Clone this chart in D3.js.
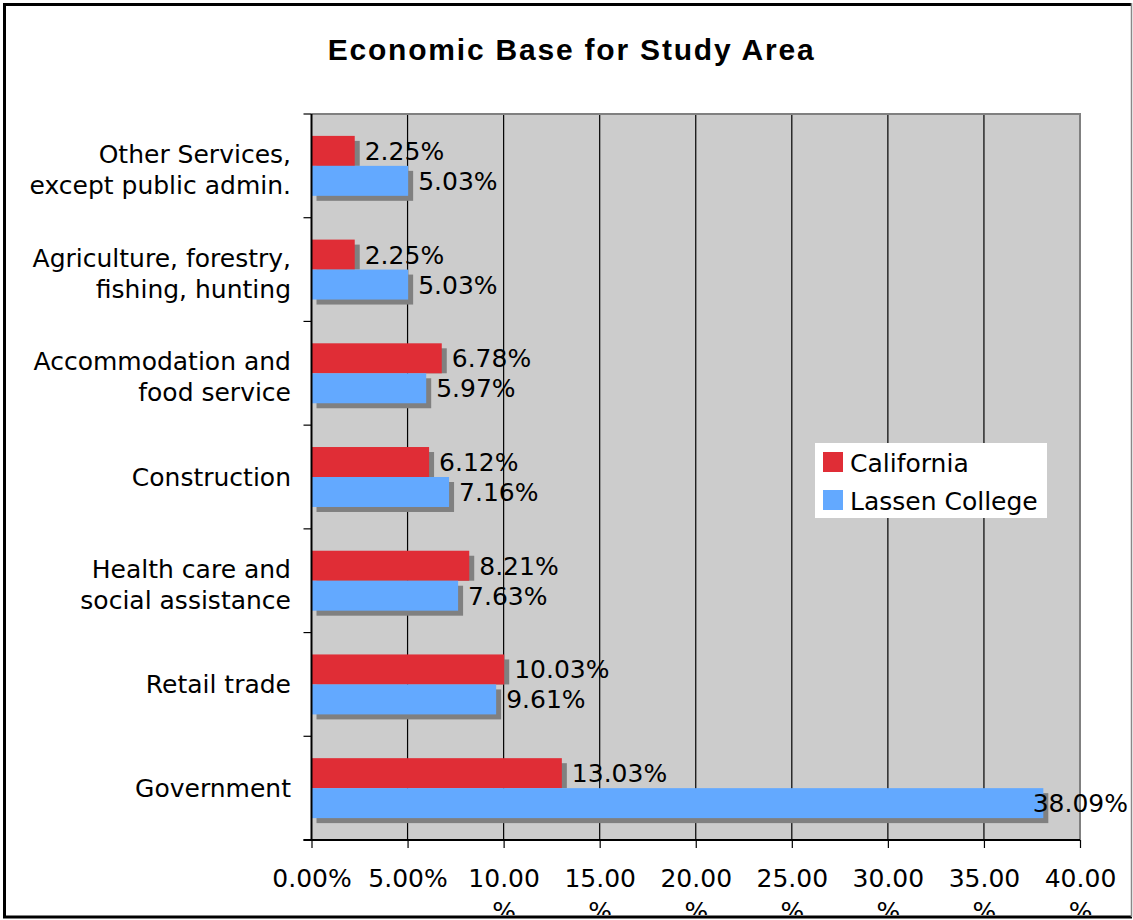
<!DOCTYPE html>
<html>
<head>
<meta charset="utf-8">
<script src="https://cdn.jsdelivr.net/npm/d3@7/dist/d3.min.js"></script>
<style>
  html, body { margin: 0; padding: 0; background: #fff; }
  svg { display: block; }
</style>
</head>
<body>
<svg id="chart" width="1133" height="920"></svg>
<script>
// ---- Data ----
const categories = [
  "Other Services,\nexcept public admin.",
  "Agriculture, forestry,\nfishing, hunting",
  "Accommodation and\nfood service",
  "Construction",
  "Health care and\nsocial assistance",
  "Retail trade",
  "Government"
];
const seriesNames = ["California", "Lassen College"];
const california = [2.25, 2.25, 6.78, 6.12, 8.21, 10.03, 13.03];
const lassen = [5.03, 5.03, 5.97, 7.16, 7.63, 9.61, 38.09];
const tickValues = [0, 5, 10, 15, 20, 25, 30, 35, 40];
const tickLabels = ["0.00%", "5.00%", "10.00%", "15.00%", "20.00%", "25.00%", "30.00%", "35.00%", "40.00%"];
const titleText = "Economic Base for Study Area";

const colors = { "California": "#E02D36", "Lassen College": "#63A9FF" };
const shadowColor = "#808080";
const font = "'DejaVu Sans', Verdana, sans-serif";

// ---- Layout ----
const svg = d3.select("#chart");
const W = 1133, H = 920;
const plot = { left: 311.5, right: 1080, top: 114, bottom: 840 };

const x = d3.scaleLinear().domain([0, 40]).range([plot.left, plot.right]);
const y = d3.scaleBand().domain(categories).range([plot.top, plot.bottom]).paddingInner(0).paddingOuter(0);
const ySub = d3.scaleBand().domain(seriesNames).range([0, y.bandwidth()]).paddingInner(0).paddingOuter(0.73);

svg.append("defs").append("clipPath").attr("id", "frameClip")
  .append("rect").attr("x", 5).attr("y", 5).attr("width", 1125).attr("height", 910);

// plot background
svg.append("rect")
  .attr("x", plot.left).attr("y", plot.top)
  .attr("width", plot.right - plot.left).attr("height", plot.bottom - plot.top)
  .attr("fill", "#CCCCCC");

// gridlines
svg.append("g").selectAll("line")
  .data(tickValues.filter(v => v > 0 && v < 40))
  .join("line")
  .attr("x1", d => x(d)).attr("x2", d => x(d))
  .attr("y1", plot.top).attr("y2", plot.bottom)
  .attr("stroke", "#000").attr("stroke-width", 1.2);

// plot border top/right
svg.append("path")
  .attr("d", `M${plot.left},${plot.top}H${plot.right}V${plot.bottom}`)
  .attr("fill", "none").attr("stroke", "#808080").attr("stroke-width", 2);

const rows = categories.map((c, i) => ({ cat: c, vals: [
  { s: "California", v: california[i] },
  { s: "Lassen College", v: lassen[i] }
]}));

const off = 5;
const barG = svg.append("g");
// shadows
rows.forEach(r => {
  r.vals.forEach((d, j) => {
    const by = y(r.cat) + ySub(d.s);
    const bh = ySub.bandwidth();
    barG.append("rect")
      .attr("x", x(0) + off).attr("y", by + off)
      .attr("width", x(d.v) - x(0))
      .attr("height", j === 0 ? bh - off : bh)
      .attr("fill", shadowColor);
  });
});
// bars
rows.forEach(r => {
  r.vals.forEach(d => {
    barG.append("rect")
      .attr("x", x(0)).attr("y", y(r.cat) + ySub(d.s))
      .attr("width", x(d.v) - x(0))
      .attr("height", ySub.bandwidth())
      .attr("fill", colors[d.s]);
  });
});

// value labels
const labG = svg.append("g");
rows.forEach(r => {
  r.vals.forEach(d => {
    const cy = y(r.cat) + ySub(d.s) + ySub.bandwidth() / 2;
    const t = labG.append("text")
      .attr("x", x(d.v) + 10).attr("y", cy + 9)
      .attr("font-family", font).attr("font-size", 25)
      .attr("fill", "#000")
      .text(d.v.toFixed(2) + "%");
    const len = t.node().getComputedTextLength();
    if (x(d.v) + 10 + len > 1128) {
      t.attr("x", 1128).attr("text-anchor", "end");
    }
  });
});

// left axis line and ticks (at band boundaries)
const boundaries = categories.map(c => y(c)).concat([plot.bottom]);
svg.append("line")
  .attr("x1", plot.left).attr("x2", plot.left)
  .attr("y1", plot.top).attr("y2", plot.bottom)
  .attr("stroke", "#000").attr("stroke-width", 2);
svg.append("g").selectAll("line").data(boundaries).join("line")
  .attr("x1", plot.left - 8).attr("x2", plot.left)
  .attr("y1", d => d).attr("y2", d => d)
  .attr("stroke", "#000").attr("stroke-width", 1.2);

// category labels
svg.append("g").selectAll("text").data(categories).join("text")
  .attr("font-family", font).attr("font-size", 25).attr("fill", "#000")
  .attr("text-anchor", "end")
  .each(function(c) {
    const lines = c.split("\n");
    const cy = y(c) + y.bandwidth() / 2;
    const t = d3.select(this);
    if (lines.length === 1) {
      t.append("tspan").attr("x", 291).attr("y", cy + 9).text(lines[0]);
    } else {
      t.append("tspan").attr("x", 291).attr("y", cy - 3).text(lines[0]);
      t.append("tspan").attr("x", 291).attr("y", cy + 28).text(lines[1]);
    }
  });

// bottom axis
const xAxis = d3.axisBottom(x).tickValues(tickValues).tickSize(8).tickFormat((d, i) => tickLabels[i]);
const axG = svg.append("g")
  .attr("transform", `translate(0,${plot.bottom})`)
  .attr("clip-path", "url(#frameClip)")
  .call(xAxis);
axG.select(".domain").attr("stroke", "#000").attr("stroke-width", 2)
  .attr("d", `M${plot.left - 8},0H${plot.right}`);
axG.selectAll(".tick line").attr("stroke", "#000").attr("stroke-width", 1.2);
axG.selectAll(".tick text")
  .attr("font-family", font).attr("font-size", 25).attr("fill", "#000")
  .attr("dy", null).attr("y", 0)
  .each(function(d, i) {
    const lab = tickLabels[i];
    const t = d3.select(this);
    t.text(null);
    if (lab.length > 5) {
      t.append("tspan").attr("x", 0).attr("y", 46.7).text(lab.slice(0, -1));
      t.append("tspan").attr("x", 0).attr("y", 79.5).text("%");
    } else {
      t.append("tspan").attr("x", 0).attr("y", 46.7).text(lab);
    }
  });
axG.attr("clip-path", null);
// clip only the labels
axG.selectAll(".tick text").attr("clip-path", null);
svg.append("g").attr("clip-path", "url(#frameClip)").node().appendChild(axG.node());

// legend
const lg = svg.append("g");
lg.append("rect").attr("x", 815).attr("y", 443).attr("width", 232).attr("height", 75).attr("fill", "#fff");
seriesNames.forEach((s, i) => {
  const yy = 452 + i * 38;
  lg.append("rect").attr("x", 823).attr("y", yy).attr("width", 20).attr("height", 20).attr("fill", colors[s]);
  lg.append("text").attr("x", 850).attr("y", yy + 20)
    .attr("font-family", font).attr("font-size", 25).attr("fill", "#000")
    .text(s);
});

// title
svg.append("text")
  .attr("x", 571.5).attr("y", 60)
  .attr("text-anchor", "middle")
  .attr("font-family", "'Liberation Sans', Arial, sans-serif")
  .attr("font-weight", "bold").attr("font-size", 30)
  .attr("letter-spacing", 1.8)
  .attr("fill", "#000")
  .text(titleText);

// outer frame
svg.append("path").attr("d", "M4.5,917V4.5H1131.5")
  .attr("fill", "none").attr("stroke", "#000").attr("stroke-width", 3);
svg.append("line").attr("x1", 3).attr("x2", 1132).attr("y1", 917).attr("y2", 917)
  .attr("stroke", "#000").attr("stroke-width", 3);
svg.append("line").attr("x1", 1131.5).attr("x2", 1131.5).attr("y1", 3).attr("y2", 917)
  .attr("stroke", "#888").attr("stroke-width", 1.5);
</script>
</body>
</html>
